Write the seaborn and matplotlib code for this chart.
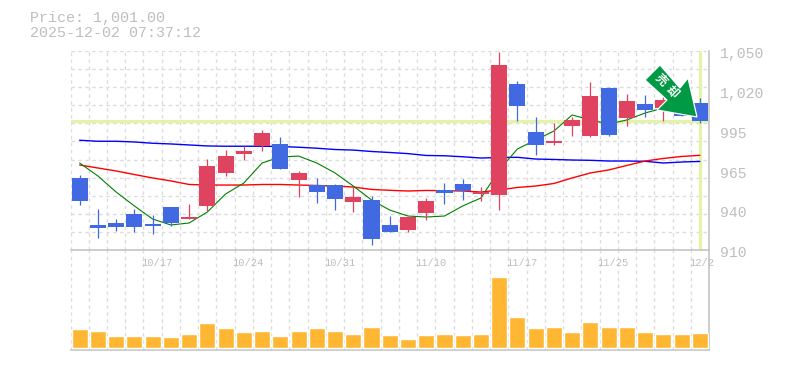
import numpy as np
import pandas as pd
import matplotlib
matplotlib.use('Agg')
import matplotlib.pyplot as plt
import seaborn as sns
from matplotlib.patches import Polygon
from matplotlib.transforms import blended_transform_factory, Affine2D

# Candles, oldest first
opens = [960.7, 927.6, 929.0, 935.3, 928.3, 940.2, 931.8, 941.0, 964.2, 977.5, 983.2, 984.6,
         959.2, 955.7, 955.7, 943.8, 945.2, 927.6, 924.1, 936.0, 952.2, 956.4, 949.4, 948.7,
         1026.8, 993.0, 985.3, 997.2, 990.2, 1024.0, 1002.9, 1012.7, 1009.9, 1012.0, 1013.4]
closes = [944.7, 925.5, 926.2, 926.2, 926.9, 929.0, 933.2, 969.1, 976.1, 979.6, 992.3, 967.0,
          964.2, 950.8, 945.9, 947.3, 917.7, 922.7, 933.2, 944.5, 950.1, 951.5, 950.8, 1040.1,
          1011.3, 983.9, 986.7, 1001.5, 1018.3, 990.9, 1014.8, 1008.5, 1015.5, 1004.6, 1001.0]
highs = [962.8, 938.8, 931.8, 938.8, 934.6, 940.2, 942.4, 974.0, 980.3, 983.2, 994.4, 989.5,
         965.6, 960.7, 956.4, 954.3, 948.0, 933.9, 933.2, 946.6, 957.1, 960.0, 954.3, 1049.3,
         1028.9, 1003.6, 999.4, 1003.6, 1028.2, 1024.7, 1019.8, 1019.1, 1019.1, 1015.5, 1016.9]
lows = [941.7, 918.7, 923.4, 922.7, 921.3, 927.1, 931.8, 937.4, 962.1, 973.3, 979.6, 967.0,
        947.3, 943.1, 938.1, 936.7, 913.5, 922.7, 922.7, 931.1, 942.4, 945.2, 944.5, 938.1,
        1000.8, 976.8, 983.9, 990.2, 989.5, 990.2, 997.2, 1003.6, 1000.8, 1004.6, 999.4]

# Moving averages
ma_short = [971.2, 962.1, 950.8, 941.0, 931.8, 927.6, 929.0, 936.7, 949.4, 957.1, 971.2, 975.4,
            976.1, 971.2, 964.2, 955.0, 945.2, 938.1, 933.9, 933.2, 933.9, 941.0, 946.6, 966.3,
            981.1, 987.4, 993.7, 1005.0, 1001.5, 998.6, 1001.5, 1006.4, 1009.9, 1011.3, 1009.9]
ma_mid = [969.8, 967.7, 965.6, 963.1, 960.7, 958.6, 956.1, 955.7, 955.7, 955.7, 956.1, 956.1,
          955.7, 955.4, 955.0, 954.3, 952.6, 952.0, 951.5, 951.9, 951.7, 951.5, 950.8, 952.2,
          954.0, 955.0, 956.8, 960.7, 964.2, 966.3, 969.5, 972.6, 974.4, 975.8, 976.6]
ma_long = [987.2, 986.5, 986.5, 986.0, 985.1, 984.6, 983.9, 983.2, 983.0, 983.0, 983.0, 982.8,
           982.3, 981.6, 980.7, 980.3, 979.3, 978.6, 977.8, 976.5, 976.3, 975.6, 974.7, 975.1,
           975.2, 974.0, 973.7, 973.3, 973.1, 972.6, 972.6, 972.4, 971.2, 971.9, 972.3]

volumes = [19, 17, 12, 12, 12, 11, 14, 25, 20, 16, 17, 12, 17, 20, 17, 14, 21, 13,
           9, 13, 14, 13, 14, 71, 31, 20, 21, 16, 26, 21, 21, 16, 14, 14, 15]

# the scale steps by 28, labels are rounded to 5
price_ticks = [1050, 1022, 994, 966, 938, 910]
price_labels = ['1,050', '1,020', '995', '965', '940', '910']
date_pos = [4, 9, 14, 19, 24, 29, 34]
date_labels = ['10/17', '10/24', '10/31', '11/10', '11/17', '11/25', '12/2']
last_price = 1001.0

BLUE = '#4169E1'
RED = '#E0435F'
GRID = '#DCDCDC'
AXIS = '#C0C0C0'
TEXT = '#BEBEBE'
HILITE = '#E3F4A9'
W, H = 785, 370
YMIN, YMAX = 910, 1050

sns.set_style('white')
plt.rcParams['font.family'] = ['Liberation Mono', 'DejaVu Sans Mono', 'Noto Sans CJK JP']

fig = plt.figure(figsize=(W / 100, H / 100), dpi=100)
# Both panels in pixels of the picture
ax2 = fig.add_axes([70.5 / W, 1 - 350 / H, 638.5 / W, 100 / H])
ax = fig.add_axes([70.5 / W, 1 - 250 / H, 638.5 / W, 199 / H])

df = pd.DataFrame({'i': range(len(opens)), 'ma_short': ma_short, 'ma_mid': ma_mid, 'ma_long': ma_long, 'vol': volumes})
edges = np.arange(-0.5, len(opens) + 0.5)

for a in (ax, ax2):
    a.set_xlim(-0.5, len(opens) - 0.5)
    a.set_xticks(edges)
    a.grid(True, axis='x', color=GRID, linestyle=(0, (2.5, 2.5)), linewidth=1)
    a.set_axisbelow(True)
    a.tick_params(length=0, labelbottom=False, labelleft=False)
    for s in ('top', 'left'):
        a.spines[s].set_visible(False)
    for s in ('right', 'bottom'):
        a.spines[s].set_color(AXIS)
        a.spines[s].set_linewidth(1.1)

# Price panel
ax.set_ylim(YMIN, YMAX)
ax.set_yticks(np.linspace(YMIN, YMAX, 12))
ax.grid(True, axis='y', color=GRID, linestyle=(0, (2.5, 2.5)), linewidth=1)

ax.axhline(last_price, color=HILITE, linewidth=2.3, zorder=1.5)
ax.vlines(34, YMIN + 1, YMAX, color=HILITE, linewidth=2.3, zorder=1.5)

sns.lineplot(data=df, x='i', y='ma_long', color='#0000FF', linewidth=1.0, ax=ax, zorder=2)
sns.lineplot(data=df, x='i', y='ma_mid', color='#FF0000', linewidth=1.0, ax=ax, zorder=2.1)
sns.lineplot(data=df, x='i', y='ma_short', color='#008000', linewidth=0.8, ax=ax, zorder=2.2)

colors = [BLUE if c < o else RED for o, c in zip(opens, closes)]
ax.vlines(df['i'], lows, highs, colors=colors, linewidth=0.9, zorder=3)
bottoms = [min(o, c) for o, c in zip(opens, closes)]
sizes = [abs(o - c) for o, c in zip(opens, closes)]
ax.bar(df['i'], sizes, bottom=bottoms, width=0.88, color=colors, linewidth=0, zorder=3.1)
ax.set_xlabel('')
ax.set_ylabel('')

# Volume panel
sns.barplot(data=df, x='i', y='vol', native_scale=True, color='#FFB733', saturation=1, width=0.88, ax=ax2, zorder=3)
ax2.set_xlim(-0.5, len(opens) - 0.5)
ax2.set_ylim(-2, 98)
ax2.set_yticks([])
ax2.set_xlabel('')
ax2.set_ylabel('')

# Header and axis texts
fig.text(30 / W, 1 - 18 / H, 'Price: 1,001.00', color=TEXT, fontsize=10.8, va='center', ha='left')
fig.text(30 / W, 1 - 33 / H, '2025-12-02 07:37:12', color=TEXT, fontsize=10.8, va='center', ha='left')

for p, lab in zip(price_ticks, price_labels):
    ax.annotate(lab, xy=(1, (p - YMIN) / (YMAX - YMIN)), xycoords='axes fraction', xytext=(8, -2.3),
                textcoords='offset points', color=TEXT, fontsize=10.6, va='center', ha='left', annotation_clip=False)

trans = blended_transform_factory(ax.transData, ax.transAxes)
for x, lab in zip(date_pos, date_labels):
    ax.annotate(lab, xy=(x, 0), xycoords=trans, xytext=(-8, -9), textcoords='offset points',
                color=TEXT, fontsize=7.5, va='center', ha='left', annotation_clip=False)

# Green arrow badge, in picture pixels
arrow = [(660, 65), (680, 88), (688, 78), (697, 117), (657, 110), (667, 100), (645, 80)]
to_fig = Affine2D().scale(1 / W, -1 / H).translate(0, 1) + fig.transFigure
fig.add_artist(Polygon(arrow, closed=True, facecolor='#009944', edgecolor='white', linewidth=0.9,
                       transform=to_fig, joinstyle='miter', zorder=10))
fig.text(661.5 / W, 1 - 79.5 / H, '売', color='white', fontsize=8.5, fontweight='bold', rotation=-45, rotation_mode='anchor',
         family='Noto Sans CJK JP', ha='center', va='center', zorder=11)
fig.text(671.5 / W, 1 - 91.5 / H, '却', color='white', fontsize=8.5, fontweight='bold', rotation=-45, rotation_mode='anchor',
         family='Noto Sans CJK JP', ha='center', va='center', zorder=11)

fig.savefig('out.png', dpi=100)
